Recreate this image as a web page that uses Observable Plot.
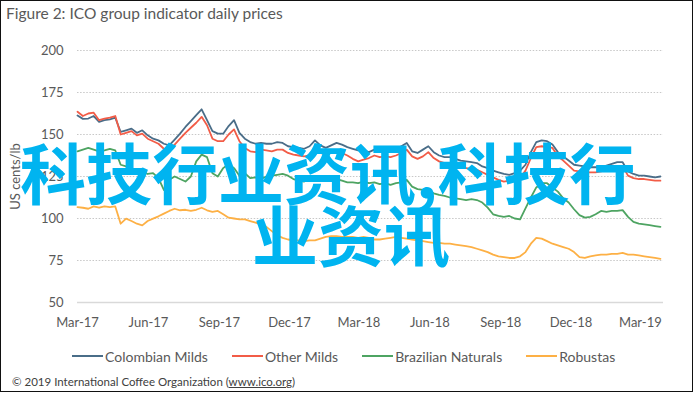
<!DOCTYPE html>
<html><head><meta charset="utf-8">
<script src="https://cdn.jsdelivr.net/npm/d3@7"></script>
<script src="https://cdn.jsdelivr.net/npm/@observablehq/plot@0.6"></script>
<style>
html,body{margin:0;padding:0;background:#fff;}
body{width:695px;height:394px;position:relative;overflow:hidden;font-family:Lato,"Open Sans",sans-serif;}
#frame{position:absolute;left:0;top:0;width:693px;height:392px;box-sizing:border-box;border:1.5px solid #111;pointer-events:none;z-index:5;}
#title{position:absolute;left:6px;top:4px;font-size:15.5px;color:#595959;white-space:nowrap;}
#chart{position:absolute;left:0;top:30px;}
#legend{position:absolute;left:72px;top:348px;height:16px;display:flex;align-items:center;font-size:14px;color:#595959;white-space:nowrap;}
#legend .item{display:flex;align-items:center;margin-right:24px;}
#legend .sw{display:inline-block;width:31px;height:2px;margin-right:2px;}
#caption{position:absolute;left:12px;top:375px;font-size:11.5px;color:#404040;white-space:nowrap;}
#caption u{text-decoration:underline;}
.wm{position:absolute;font-family:"Noto Sans CJK SC",sans-serif;font-weight:700;font-size:66px;line-height:66px;color:#00b4f0;white-space:nowrap;z-index:4;}
</style></head>
<body>
<div id="frame"></div>
<div id="title"></div>
<div id="chart"></div>
<div id="legend"></div>
<div id="caption"></div>
<div id="wm1" class="wm"></div>
<div id="wm2" class="wm"></div>
<script>
const titleText = "Figure 2: ICO group indicator daily prices";
const yLabel = "US cents/lb";
const captionText = "\u00a9 2019 International Coffee Organization (";
const captionLink = "www.ico.org";
const watermarkLines = ["科技行业资讯,科技行", "业资讯"];

const seriesNames = ["Colombian Milds", "Other Milds", "Brazilian Naturals", "Robustas"];
const seriesColors = ["#4a6d88", "#f25c47", "#4ea462", "#fdb045"];

const yTicks = [50, 75, 100, 125, 150, 175, 200];
const xTickDates = ["2017-03-01","2017-06-01","2017-09-01","2017-12-01","2018-03-01","2018-06-01","2018-09-01","2018-12-01","2019-03-01"];
const xTickLabels = ["Mar-17","Jun-17","Sep-17","Dec-17","Mar-18","Jun-18","Sep-18","Dec-18","Mar-19"];

const dates = [
"2017-03-01","2017-03-08","2017-03-15","2017-03-22","2017-03-29","2017-04-05","2017-04-12","2017-04-19","2017-04-26","2017-05-03",
"2017-05-10","2017-05-17","2017-05-24","2017-05-31","2017-06-07","2017-06-14","2017-06-21","2017-06-28","2017-07-05","2017-07-12",
"2017-07-19","2017-07-26","2017-08-02","2017-08-09","2017-08-16","2017-08-23","2017-08-30","2017-09-06","2017-09-13","2017-09-20",
"2017-09-27","2017-10-04","2017-10-11","2017-10-18","2017-10-25","2017-11-01","2017-11-08","2017-11-15","2017-11-22","2017-11-29",
"2017-12-06","2017-12-13","2017-12-20","2017-12-27","2018-01-03","2018-01-10","2018-01-17","2018-01-24","2018-01-31","2018-02-07",
"2018-02-14","2018-02-21","2018-02-28","2018-03-07","2018-03-14","2018-03-21","2018-03-28","2018-04-04","2018-04-11","2018-04-18",
"2018-04-25","2018-05-02","2018-05-09","2018-05-16","2018-05-23","2018-05-30","2018-06-06","2018-06-13","2018-06-20","2018-06-27",
"2018-07-04","2018-07-11","2018-07-18","2018-07-25","2018-08-01","2018-08-08","2018-08-15","2018-08-22","2018-08-29","2018-09-05",
"2018-09-12","2018-09-19","2018-09-26","2018-10-03","2018-10-10","2018-10-17","2018-10-24","2018-10-31","2018-11-07","2018-11-14",
"2018-11-21","2018-11-28","2018-12-05","2018-12-12","2018-12-19","2018-12-26","2019-01-02","2019-01-09","2019-01-16","2019-01-23",
"2019-01-30","2019-02-06","2019-02-13","2019-02-20","2019-02-27","2019-03-06","2019-03-13","2019-03-20","2019-03-27"];

const colombianMilds = [
161.3,159.3,159.5,161,157.5,158.5,159,160,151.5,152.5,153.5,151,152.5,149.5,147.5,146.5,144.5,143.5,147,150.5,154.5,158,161.5,165,158.5,152,150.5,
150.5,155,158.5,151,147.5,145.5,144.5,145,144.5,144.5,145.5,145,143,142.5,142,141.5,143,146.5,143.5,142,143.5,145,144,142.5,141.5,140.5,140.5,
139.5,141,140,140.5,140,141,143,145,140,139,141,143,139.5,137.5,136.5,136.5,135.5,134.5,134,133.5,133,131,130,128.5,127.5,126.5,126,
127,128.5,132,139.5,145.5,146.5,146,144,139.5,137,134.5,132,131.5,131,130.5,130.5,130.5,131.5,132.5,133.5,133.5,128,126.5,125.5,125.5,125,124.5,125];

const otherMilds = [
163.5,161,162.5,163,158.5,159.5,160,161,150,151,152,149.5,150.5,147.5,146,144.5,141.5,140.5,144,147.5,151,154,157,160.5,155.5,147.5,146,
146,150,153,146,142,140,139.5,141,140.5,140,141,141,139,138,137.5,137,137.5,140.5,139,138,139,140,139,137.5,135.5,134,135,
136,137.5,136.5,137,136.5,137.5,139,141,137,135.5,137,139.5,136,134,133,132.5,131.5,130.5,130,129.5,129,127.5,126,124.5,123,122,122.5,
122.5,124,128.5,136,142.5,143,142.5,142,137,134.5,131.5,128.5,128,127.5,127.5,127.5,128,129,130,131,131,125.5,124,123.5,123.5,123,122.5,122.5];

const brazilianNaturals = [
140,141,142,141,140,140.5,141.5,140.5,132,131,128.5,127.5,128,126.5,127,124,117,123,125,123.5,122,125,134,138,136.5,127,125,
130,132.5,130,125.5,127,124,124.5,123.5,125,125.5,126,126.5,125.5,123.5,122.5,122,124,125,123.5,124,124.5,123.5,122.5,121.5,121.5,121,122,
121,121.5,120.5,121,120,121,121.5,123,119,117.5,117,116.5,115,114,113.5,112.5,112,111.5,111,111.5,111,109.5,106.5,102.5,101.5,101,101.5,
100,99.5,106,112.5,118.5,121,121,118.5,116,112,109.5,105.5,102,100.5,101,102.5,104.5,104,104.5,104.5,105,101,98,97,96.5,96,95.5,95];

const robustas = [
106.8,106.4,105.8,107.2,106.4,107.2,106.8,107.2,96.9,99.9,98.5,96.9,95.9,98.5,99.9,101.3,102.9,104.5,105.8,104.9,105.2,104.5,105.2,106.4,104.9,103.9,104.5,
102.5,100.5,100,99.5,99.5,98.5,97.5,96.5,95,92.5,90,88.5,87.5,87,87,86.5,87,87,88,89,89.5,89.5,89,89,89,88.5,89,
88.5,87.5,87.5,88,88.5,89,88.5,88,87.5,87,86.5,86,85.5,85.5,85,85,84.5,84,83.5,83,82,81,80,78.5,77.5,77,76.5,
76.5,77.5,80,85,88.5,88,86.5,85,84,83,82,80,77,76.5,77.5,78,78.5,78.5,79,79,79.5,78.5,78.5,78,77.5,77,76.5,76];

const seriesValues = [colombianMilds, otherMilds, brazilianNaturals, robustas];
const rows = [];
seriesNames.forEach((name, s) => {
  dates.forEach((d, i) => rows.push({date: new Date(d), value: seriesValues[s][i], series: name}));
});

document.getElementById("title").textContent = titleText;

const chart = Plot.plot({
  width: 695, height: 302,
  marginLeft: 77, marginRight: 32, marginTop: 20, marginBottom: 30,
  style: {fontFamily: "Lato, 'Open Sans', sans-serif", fontSize: "13px", color: "#595959", background: "transparent", overflow: "visible"},
  x: {type: "utc", domain: [new Date("2017-03-01"), new Date("2019-03-31")]},
  y: {domain: [50, 200]},
  color: {domain: seriesNames, range: seriesColors},
  marks: [
    Plot.ruleY(yTicks.filter(v => v > 50), {stroke: "#c8c8c8", strokeWidth: 1.2, strokeDasharray: "1.5,1.6"}),
    Plot.ruleY([50], {stroke: "#d9d9d9", strokeWidth: 1.3}),
    Plot.axisY({ticks: yTicks, tickSize: 0, tickPadding: 14, label: null, fontSize: 13}),
    Plot.axisX({ticks: xTickDates.map(d => new Date(d)), tickFormat: d => xTickLabels[xTickDates.indexOf(d.toISOString().slice(0, 10))], tickSize: 0, tickPadding: 15, label: null, fontSize: 13}),
    Plot.text([yLabel], {frameAnchor: "left", textAnchor: "middle", rotate: -90, dx: -62, fontSize: 13, fill: "#595959"}),
    Plot.line(rows, {x: "date", y: "value", z: "series", stroke: "series", strokeWidth: 1.8})
  ]
});
document.getElementById("chart").appendChild(chart);

const legend = document.getElementById("legend");
seriesNames.forEach((name, i) => {
  const item = document.createElement("div");
  item.className = "item";
  const sw = document.createElement("span");
  sw.className = "sw";
  sw.style.background = seriesColors[i];
  const t = document.createElement("span");
  t.textContent = name;
  item.appendChild(sw); item.appendChild(t);
  legend.appendChild(item);
});

const cap = document.getElementById("caption");
cap.appendChild(document.createTextNode(captionText));
const u = document.createElement("u"); u.textContent = captionLink; cap.appendChild(u);
cap.appendChild(document.createTextNode(")"));

const wm1 = document.getElementById("wm1");
wm1.textContent = watermarkLines[0];
wm1.style.left = "20px"; wm1.style.top = "137px";
const wm2 = document.getElementById("wm2");
wm2.textContent = watermarkLines[1];
wm2.style.left = "252px"; wm2.style.top = "199px";
</script>
</body></html>
